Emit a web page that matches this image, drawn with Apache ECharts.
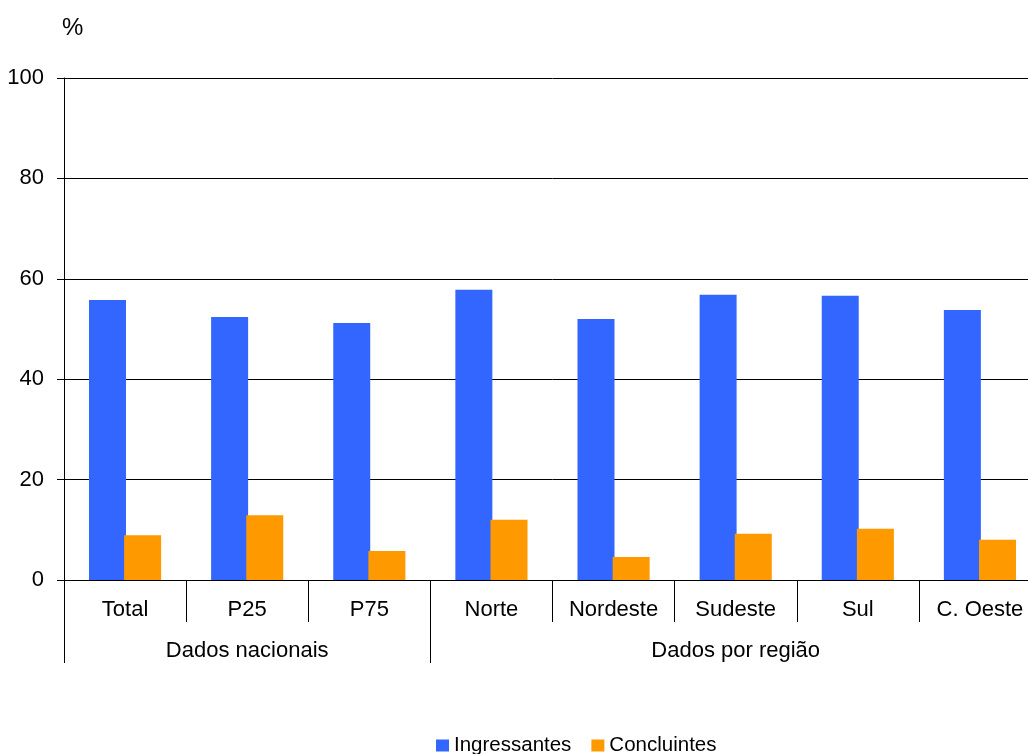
<!DOCTYPE html>
<html>
<head>
<meta charset="utf-8">
<script src="https://cdn.jsdelivr.net/npm/echarts@6/dist/echarts.min.js"></script>
<style>
  html, body { margin: 0; padding: 0; background: #fff; overflow: hidden; }
  /* a área do gráfico original passa um pouco da borda direita */
  #chart { width: 1041px; height: 754px; }
</style>
</head>
<body>
<div id="chart"></div>
<script>
// dados
var categorias = ['Total', 'P25', 'P75', 'Norte', 'Nordeste', 'Sudeste', 'Sul', 'C. Oeste']
var grupos = ['', 'Dados nacionais', '', '', '', 'Dados por região', '', '']
var ingressantes = [55.8, 52.4, 51.2, 57.8, 52.0, 56.8, 56.6, 53.8]
var concluintes = [8.9, 12.9, 5.8, 12.0, 4.6, 9.2, 10.2, 8.0]
var yTicks = [0, 20, 40, 60, 80, 100]

var fonte = 'Liberation Sans, Arial, sans-serif'
var chart = echarts.init(document.getElementById('chart'))

var option = {
  animation: false,
  textStyle: { fontFamily: fonte },
  title: {
    text: '%',
    left: 57,
    top: 11,
    textStyle: { fontSize: 24, fontWeight: 'normal', color: '#000', fontFamily: fonte }
  },
  legend: {
    data: ['Ingressantes', 'Concluintes'],
    left: 436,
    top: 735,
    padding: 0,
    icon: 'rect',
    itemWidth: 13,
    itemHeight: 12,
    itemGap: 20,
    textStyle: { fontSize: 20.5, color: '#000', fontFamily: fonte }
  },
  grid: {
    left: 64,
    right: 0,
    top: 78,
    bottom: 174
  },
  xAxis: [
    {
      type: 'category',
      data: categorias,
      position: 'bottom',
      axisLine: { lineStyle: { color: '#000', width: 1 } },
      axisTick: { show: true, interval: 0, length: 42, lineStyle: { color: '#000' } },
      axisLabel: { interval: 0, margin: 19, fontSize: 22, color: '#000', fontFamily: fonte }
    },
    {
      type: 'category',
      data: grupos,
      position: 'bottom',
      offset: 0,
      axisLine: { show: false },
      axisTick: {
        show: true,
        length: 83,
        // separadores dos grupos
        interval: function (index) { return index === 0 || index === 3 },
        lineStyle: { color: '#000' }
      },
      axisLabel: { interval: 0, margin: 60, fontSize: 22, color: '#000', fontFamily: fonte }
    }
  ],
  yAxis: {
    type: 'value',
    min: yTicks[0],
    max: yTicks[yTicks.length - 1],
    interval: 20,
    axisLine: { show: true, lineStyle: { color: '#000' } },
    axisTick: { show: true, length: 7, lineStyle: { color: '#000' } },
    axisLabel: { margin: 20, fontSize: 22, color: '#000', fontFamily: fonte },
    splitLine: { show: true, lineStyle: { color: '#000', width: 1 } }
  },
  series: [
    {
      name: 'Ingressantes',
      type: 'bar',
      xAxisIndex: 0,
      data: ingressantes,
      barWidth: 37,
      barGap: '-5%',
      itemStyle: { color: '#3366FF' }
    },
    {
      name: 'Concluintes',
      type: 'bar',
      xAxisIndex: 0,
      data: concluintes,
      barWidth: 37,
      barGap: '-5%',
      itemStyle: { color: '#FF9900' }
    }
  ]
}

chart.setOption(option)
</script>
</body>
</html>
